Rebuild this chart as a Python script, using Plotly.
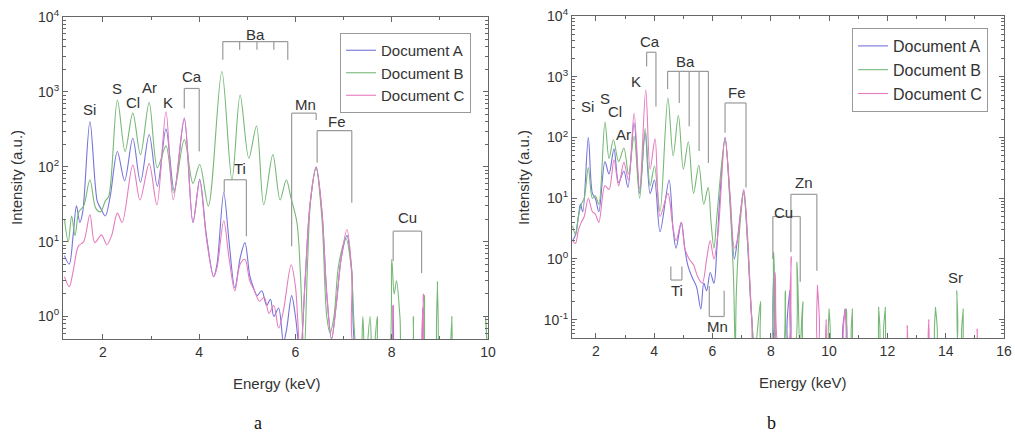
import math
import plotly.graph_objects as go

# ---------------- data: panel a (energy keV, intensity a.u.) ----------------
a_A_x = [1.20, 1.30, 1.38, 1.45, 1.52, 1.58, 1.73, 1.88, 1.95, 2.05, 2.15, 2.30, 2.45, 2.62, 2.78, 2.96, 3.13, 3.31, 3.48, 3.69,
         3.87, 4.01, 4.15, 4.30, 4.37, 4.51, 4.62, 4.74, 4.85, 4.95, 5.05, 5.12, 5.20, 5.30, 5.40, 5.48, 5.55, 5.65, 5.75, 5.82,
         5.92, 6.00, 6.10, 6.20, 6.30, 6.43, 6.55, 6.65, 6.75, 6.85, 6.95, 7.07, 7.17, 7.27, 7.50, 7.95, 8.03, 8.10, 8.55, 8.65,
         8.75, 10.0]
a_A_y = [6.5, 5.0, 12, 30, 18, 25, 400, 35, 28, 22, 40, 160, 65, 240, 62, 270, 55, 320, 48, 430,
         18, 68, 12, 3.4, 5, 45, 10, 2.4, 6, 9.7, 3.5, 2.5, 1.9, 2.2, 1.4, 1.7, 1.0, 1.3, 0.45, 0.7,
         1.9, 1.0, 0.3, 3, 30, 98, 25, 2, 0.5, 1.5, 6, 12, 4, 0.3, 0.2, 0.2, 1.4, 0.2, 0.2, 1.3,
         0.2, 0.2]

a_B_x = [1.20, 1.28, 1.35, 1.42, 1.50, 1.60, 1.73, 1.85, 1.95, 2.05, 2.12, 2.30, 2.46, 2.62, 2.78, 2.96, 3.13, 3.31, 3.47, 3.69,
         3.87, 4.01, 4.19, 4.47, 4.68, 4.85, 5.03, 5.19, 5.34, 5.53, 5.68, 5.81, 5.90, 6.03, 6.10, 6.18, 6.25, 6.32, 6.43, 6.55,
         6.65, 6.72, 6.80, 6.90, 7.05, 7.15, 7.25, 7.35, 7.40, 7.45, 7.55, 7.60, 7.70, 7.75, 7.90, 8.00, 8.05, 8.10, 8.17, 8.25,
         8.40, 8.45, 8.50, 8.62, 8.68, 8.74, 8.90, 8.95, 9.00, 9.20, 9.25, 9.30, 9.90, 9.95, 10.0]
a_B_y = [20, 10, 22, 12, 25, 30, 67, 28, 25, 35, 40, 780, 160, 520, 145, 720, 97, 190, 45, 230,
         60, 107, 30, 1870, 67, 910, 130, 350, 31, 145, 36, 67, 40, 18, 4, 0.3, 5, 40, 95, 20,
         1.0, 0.6, 1.0, 5, 11, 5, 0.4, 0.2, 1.0, 0.2, 1.0, 0.2, 1.0, 0.2, 0.2, 5.8, 2.0, 3.0, 1.0, 0.2,
         0.2, 1.0, 0.2, 0.2, 1.9, 0.2, 0.2, 2.9, 0.2, 0.2, 1.0, 0.2, 0.2, 1.0, 0.2]

a_C_x = [1.20, 1.30, 1.38, 1.49, 1.60, 1.73, 1.83, 1.97, 2.08, 2.18, 2.30, 2.40, 2.62, 2.77, 2.96, 3.12, 3.31, 3.46, 3.69, 3.87,
         4.01, 4.15, 4.30, 4.37, 4.51, 4.62, 4.74, 4.85, 4.95, 5.05, 5.15, 5.25, 5.35, 5.45, 5.55, 5.65, 5.75, 5.91, 6.00, 6.10,
         6.20, 6.30, 6.43, 6.55, 6.65, 6.75, 6.85, 6.95, 7.07, 7.17, 7.27, 7.90, 8.03, 8.10, 8.55, 8.66, 8.75, 10.0]
a_C_y = [3.4, 2.5, 4, 8.7, 10, 23, 9.7, 12.3, 9.1, 12, 24, 18, 105, 36, 110, 31, 545, 36, 450, 18,
         65, 11, 3.4, 4.5, 19, 6, 2.2, 5, 5.8, 3, 2.2, 1.6, 1.8, 1.1, 1.4, 0.7, 1.2, 4.9, 2.5, 0.3,
         3, 30, 100, 25, 2, 0.5, 1.5, 6, 14.5, 4, 0.3, 0.2, 1.4, 0.2, 0.2, 2.0, 0.2, 0.2]

# ---------------- data: panel b ----------------
b_A_x = [1.20, 1.30, 1.40, 1.47, 1.55, 1.74, 1.88, 1.98, 2.10, 2.31, 2.45, 2.62, 2.78, 2.96, 3.10, 3.31, 3.50, 3.69, 3.86, 4.01,
         4.20, 4.51, 4.65, 4.75, 4.93, 5.05, 5.15, 5.30, 5.45, 5.60, 5.70, 5.80, 5.92, 6.05, 6.15, 6.25, 6.43, 6.60, 6.75, 6.85,
         7.07, 7.20, 7.35, 7.50, 8.00, 8.10, 8.20, 8.60, 8.65, 8.70, 10.50, 10.55, 10.60, 16.0]
b_A_y = [2.0, 2.5, 5, 8, 6, 100, 12, 10, 6, 40, 25, 65, 18, 28, 15, 175, 12, 120, 12, 20,
         2.8, 20, 3, 1.5, 4, 1.5, 0.8, 0.5, 0.35, 0.15, 0.4, 0.3, 0.6, 0.4, 1.5, 10, 100, 10, 1.0, 2,
         13, 2, 0.1, 0.03, 0.03, 0.8, 0.03, 0.03, 0.3, 0.03, 0.03, 0.15, 0.03, 0.03]

b_B_x = [1.20, 1.30, 1.40, 1.50, 1.60, 1.74, 1.88, 1.98, 2.10, 2.31, 2.45, 2.60, 2.78, 2.96, 3.12, 3.31, 3.50, 3.69, 3.86, 4.01,
         4.20, 4.47, 4.65, 4.83, 5.00, 5.17, 5.35, 5.53, 5.70, 5.85, 5.95, 6.05, 6.15, 6.43, 6.60, 6.72, 6.78, 6.82, 6.95, 7.07,
         7.20, 7.35, 7.45, 7.65, 7.70, 7.95, 8.10, 8.25, 8.40, 8.50, 8.60, 8.80, 8.90, 9.00, 9.10, 9.20, 9.95, 10.00, 10.05, 10.50,
         10.60, 10.65, 10.75, 10.80, 10.85, 11.65, 11.70, 11.75, 11.88, 11.93, 11.98, 13.60, 13.65, 13.70, 14.30, 14.38, 14.46, 14.55,
         14.60, 14.65, 16.0]
b_B_y = [3.5, 2.5, 5, 8, 10, 32, 10, 11, 8, 180, 45, 92, 40, 67, 25, 105, 10, 140, 16, 34,
         6, 445, 50, 230, 30, 85, 12, 35, 8, 15, 4, 1.5, 5, 95, 8, 0.5, 0.03, 0.3, 4, 12,
         2, 0.1, 0.03, 0.2, 0.03, 0.03, 1.3, 0.03, 0.03, 0.3, 0.03, 0.03, 0.9, 0.03, 0.2, 0.03, 0.03, 0.15, 0.03, 0.03,
         0.15, 0.03, 0.03, 0.15, 0.03, 0.03, 0.16, 0.03, 0.03, 0.16, 0.03, 0.03, 0.16, 0.03, 0.03, 0.30, 0.03, 0.03,
         0.15, 0.03, 0.03]

b_C_x = [1.20, 1.30, 1.40, 1.50, 1.60, 1.74, 1.88, 1.98, 2.10, 2.31, 2.45, 2.62, 2.78, 2.96, 3.12, 3.31, 3.50, 3.71, 3.86, 4.03,
         4.20, 4.47, 4.62, 4.75, 4.93, 5.05, 5.20, 5.35, 5.50, 5.65, 5.80, 5.92, 6.05, 6.20, 6.43, 6.60, 6.75, 6.85, 7.07, 7.20,
         7.35, 7.45, 8.00, 8.15, 8.30, 8.55, 8.70, 8.82, 9.55, 9.60, 9.65, 9.85, 9.90, 9.95, 10.50, 10.55, 10.60, 12.60, 12.68, 12.76,
         13.35, 13.42, 13.50, 15.00, 15.08, 15.16, 16.0]
b_C_y = [2, 1.8, 3, 4, 5, 10, 6, 5.5, 4, 16, 14, 43, 16, 39, 20, 250, 14, 610, 30, 95,
         5, 12, 4, 2, 4, 1.5, 1.0, 0.8, 0.5, 0.4, 1.0, 2.0, 1.0, 3, 100, 12, 1.5, 2, 14, 2.5,
         0.1, 0.03, 0.03, 0.6, 0.03, 0.03, 1.1, 0.03, 0.03, 0.37, 0.03, 0.03, 0.1, 0.03, 0.03, 0.15, 0.03, 0.03, 0.08, 0.03,
         0.03, 0.10, 0.03, 0.03, 0.07, 0.03, 0.03]

series_names = ["Document A", "Document B", "Document C"]
series_colors = ["#7474da", "#78b878", "#e67cbf"]

x_ticks_a = [2, 4, 6, 8, 10]
x_ticks_b = [2, 4, 6, 8, 10, 12, 14, 16]
y_tickvals = [0.1, 1, 10, 100, 1000, 10000]
y_ticktext = ["10<sup>-1</sup>", "10<sup>0</sup>", "10<sup>1</sup>", "10<sup>2</sup>", "10<sup>3</sup>", "10<sup>4</sup>"]

# element labels: (text, energy, intensity)
labels_a = [("Si", 1.715, 575), ("S", 2.30, 1100), ("Cl", 2.63, 720), ("Ar", 2.96, 1150), ("K", 3.36, 720),
            ("Ca", 3.85, 1580), ("Ba", 5.17, 5750), ("Ti", 4.85, 95), ("Mn", 6.21, 680), ("Fe", 6.87, 400),
            ("Cu", 8.33, 21)]
labels_b = [("Si", 1.725, 325), ("S", 2.31, 440), ("Cl", 2.65, 270), ("Ar", 2.96, 112), ("K", 3.37, 830),
            ("Ca", 3.86, 3800), ("Ba", 5.06, 1780), ("Fe", 6.84, 550), ("Ti", 4.77, 0.30), ("Mn", 6.17, 0.078),
            ("Cu", 8.43, 5.9), ("Zn", 9.15, 18), ("Sr", 14.34, 0.5)]

# line-series brackets: (energies, bar level, leg ends)
brackets_a = [([3.69, 4.00], 1110, [600, 160]),
              ([4.49, 4.84, 5.20, 5.55, 5.84], 4690, [2690, 3650, 3650, 3650, 2690]),
              ([4.52, 4.98], 67, [45, 11.8]),
              ([5.92, 6.43], 520, [8.7, 420]),
              ([6.45, 7.17], 303, [113, 33]),
              ([8.03, 8.62], 13.8, [5.5, 3.8])]
brackets_b = [([3.74, 4.06], 2530, [1480, 325]),
              ([4.46, 4.86, 5.20, 5.54, 5.86], 1230, [630, 370, 153, 60, 38]),
              ([6.43, 7.15], 370, [120, 15]),
              ([4.57, 4.95], 0.45, [0.75, 0.75]),
              ([5.89, 6.40], 0.113, [0.36, 0.30]),
              ([8.07, 9.01], 5.0, [1.0, 0.42]),
              ([8.69, 9.58], 11.6, [1.3, 0.64])]

FONT = "Liberation Sans, Arial, sans-serif"
TXT = "#333333"
AX = "#666666"

fig = go.Figure()

panels = [
    ("x", "y", "legend", [(a_A_x, a_A_y), (a_B_x, a_B_y), (a_C_x, a_C_y)]),
    ("x2", "y2", "legend2", [(b_A_x, b_A_y), (b_B_x, b_B_y), (b_C_x, b_C_y)]),
]
for xa, ya, lg, data in panels:
    for (xs, ys), name, col in zip(data, series_names, series_colors):
        fig.add_trace(go.Scatter(x=xs, y=ys, mode="lines", name=name, legend=lg,
                                 xaxis=xa, yaxis=ya, hoverinfo="skip",
                                 line=dict(color=col, width=1.1, shape="spline", smoothing=0.9)))

shapes = []
def add_brackets(brs, xref, yref):
    for xs, top, ends in brs:
        shapes.append(dict(type="line", xref=xref, yref=yref, x0=xs[0], x1=xs[-1], y0=top, y1=top,
                           line=dict(color="#9a9a9a", width=1.2)))
        for xv, e in zip(xs, ends):
            shapes.append(dict(type="line", xref=xref, yref=yref, x0=xv, x1=xv, y0=top, y1=e,
                               line=dict(color="#9a9a9a", width=1.2)))
add_brackets(brackets_a, "x", "y")
add_brackets(brackets_b, "x2", "y2")

annotations = []
for lab, xv, yv in labels_a:
    annotations.append(dict(text=lab, x=xv, y=math.log10(yv), xref="x", yref="y", showarrow=False,
                            xanchor="center", yanchor="middle",
                            font=dict(family=FONT, size=15, color=TXT)))
for lab, xv, yv in labels_b:
    annotations.append(dict(text=lab, x=xv, y=math.log10(yv), xref="x2", yref="y2", showarrow=False,
                            xanchor="center", yanchor="middle",
                            font=dict(family=FONT, size=15, color=TXT)))

# axis titles & panel letters
for txt, x, y, ang in [("Energy (keV)", 277, 383, 0), ("Energy (keV)", 803, 382, 0),
                       ("Intensity (a.u.)", 16, 178, -90), ("Intensity (a.u.)", 523, 178, -90)]:
    annotations.append(dict(text=txt, x=x / 1015, y=1 - y / 434, xref="paper", yref="paper",
                            showarrow=False, textangle=ang, xanchor="center", yanchor="middle",
                            font=dict(family=FONT, size=15, color=TXT)))
for txt, x in [("a", 258), ("b", 771)]:
    annotations.append(dict(text=txt, x=x / 1015, y=1 - 423 / 434, xref="paper", yref="paper",
                            showarrow=False, xanchor="center", yanchor="middle",
                            font=dict(family="Liberation Serif, Times New Roman, serif",
                                      size=18, color="#111")))

def minor_log(lo_exp, hi_exp):
    return [m * 10 ** e for e in range(lo_exp, hi_exp) for m in range(2, 10)]

common_x = dict(showline=True, linecolor=AX, linewidth=1.2, mirror="ticks", ticks="inside",
                ticklen=5, tickcolor=AX, showgrid=False, zeroline=False, automargin=False,
                tickfont=dict(family=FONT, size=14, color=TXT))
common_y = dict(type="log", showline=True, linecolor=AX, linewidth=1.2, mirror="ticks", ticks="inside",
                ticklen=5, tickcolor=AX, showgrid=False, zeroline=False, tickmode="array", automargin=False,
                tickvals=y_tickvals, ticktext=y_ticktext,
                tickfont=dict(family=FONT, size=14, color=TXT))

fig.update_layout(
    width=1015, height=434, margin=dict(l=0, r=0, t=0, b=0, autoexpand=False),
    paper_bgcolor="white", plot_bgcolor="white",
    xaxis=dict(domain=[63 / 1015, 488 / 1015], range=[1.17, 10], tickvals=x_ticks_a,
               minor=dict(tickvals=[3, 5, 7, 9], ticks="inside", ticklen=3, tickcolor=AX),
               anchor="y", **common_x),
    yaxis=dict(domain=[95 / 434, 417 / 434], range=[math.log10(0.5), 4], anchor="x",
               minor=dict(tickvals=minor_log(-1, 4), ticks="inside", ticklen=3, tickcolor=AX),
               **common_y),
    xaxis2=dict(domain=[572 / 1015, 1004 / 1015], range=[1.18, 16], tickvals=x_ticks_b,
                minor=dict(tickvals=[3, 5, 7, 9, 11, 13, 15], ticks="inside", ticklen=3, tickcolor=AX),
                anchor="y2", **common_x),
    yaxis2=dict(domain=[96 / 434, 418 / 434], range=[math.log10(0.05), 4], anchor="x2",
                minor=dict(tickvals=minor_log(-2, 4), ticks="inside", ticklen=3, tickcolor=AX),
                **common_y),
    legend=dict(x=340 / 1015, y=1 - 33 / 434, xanchor="left", yanchor="top", bgcolor="white",
                bordercolor="#999", borderwidth=1, font=dict(family=FONT, size=15, color=TXT),
                itemwidth=30, tracegroupgap=0),
    legend2=dict(x=852 / 1015, y=1 - 28 / 434, xanchor="left", yanchor="top", bgcolor="white",
                 bordercolor="#999", borderwidth=1, font=dict(family=FONT, size=16, color=TXT),
                 itemwidth=30, tracegroupgap=0),
    shapes=shapes, annotations=annotations, showlegend=True,
)

fig.write_html("out.html", config={"displayModeBar": False},
               post_script="document.body.style.margin='0';document.body.style.overflow='hidden';")
